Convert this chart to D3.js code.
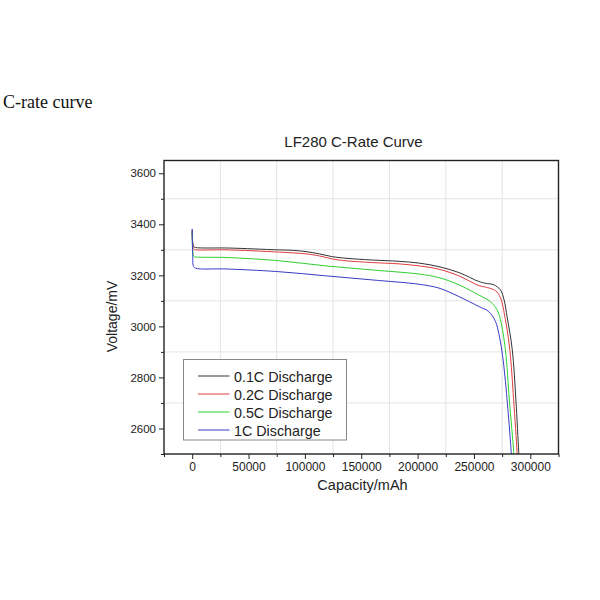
<!DOCTYPE html>
<html>
<head>
<meta charset="utf-8">
<script src="https://cdn.jsdelivr.net/npm/d3@7"></script>
<style>
  html, body { margin: 0; padding: 0; background: #fff; }
  svg { display: block; }
</style>
</head>
<body>
<svg id="chart" width="600" height="600"></svg>
<script>
// ---- data (capacity in mAh, voltage in mV) ----
const seriesNames = ["0.1C Discharge", "0.2C Discharge", "0.5C Discharge", "1C Discharge"];
const seriesColors = ["#333333", "#e03c3c", "#2ed12e", "#3a3ac8"];

const cap01C = [0, 500, 1500, 3000, 33000, 75000, 89000, 101000, 113000, 124600, 136500, 160000, 183600, 201300, 219000, 236600, 254300, 260200, 267600, 273500, 276700, 279500, 284000, 287200, 289700, 290100];
const volt01C = [3380, 3330, 3312, 3309, 3307, 3300, 3298, 3293, 3284, 3273, 3267, 3260, 3255, 3248, 3234, 3211, 3176, 3169, 3163, 3143, 3104, 3035, 2908, 2712, 2510, 2480];

const cap02C = [0, 500, 1500, 3000, 30000, 77500, 101000, 113000, 124600, 136500, 160000, 183600, 201300, 219000, 236600, 254300, 262000, 269100, 273500, 277900, 281800, 285200, 288200, 288500];
const volt02C = [3372, 3318, 3302, 3300, 3300, 3291, 3284, 3276, 3264, 3257, 3250, 3245, 3237, 3224, 3198, 3160, 3152, 3140, 3112, 3026, 2908, 2712, 2510, 2480];

const cap05C = [0, 500, 1500, 3000, 30000, 75000, 118800, 160000, 201300, 219000, 236600, 254300, 264600, 270500, 273500, 277900, 281400, 285200, 285500];
const volt05C = [3368, 3295, 3274, 3272, 3270, 3258, 3237, 3221, 3205, 3191, 3163, 3123, 3097, 3065, 3026, 2908, 2712, 2510, 2480];

const cap1C = [0, 400, 1200, 3000, 30000, 75000, 118800, 160000, 201300, 219000, 236600, 254300, 263100, 269100, 272000, 274900, 277900, 283000, 283300];
const volt1C = [3382, 3290, 3235, 3228, 3225, 3215, 3198, 3182, 3165, 3150, 3117, 3078, 3058, 3019, 2973, 2900, 2785, 2510, 2480];

const xTickValues = [0, 50000, 100000, 150000, 200000, 250000, 300000];
const xMinorValues = [-25000, 25000, 75000, 125000, 175000, 225000, 275000, 325000];
const yTickValues = [2600, 2800, 3000, 3200, 3400, 3600];
const yMinorValues = [2500, 2700, 2900, 3100, 3300, 3500];

const pageTitle = "C-rate curve";
const chartTitle = "LF280 C-Rate Curve";
const xLabel = "Capacity/mAh";
const yLabel = "Voltage/mV";

// ---- layout ----
const svg = d3.select("#chart");
const pLeft = 164, pRight = 558.5, pTop = 160.5, pBottom = 454;
const x = d3.scaleLinear().domain([-25000, 325000]).range([pLeft, pRight]);
const y = d3.scaleLinear().domain([2500, 3650]).range([pBottom, pTop]);

const sans = "'Liberation Sans', Arial, sans-serif";

// page heading
svg.append("text").attr("x", 3).attr("y", 108)
  .attr("font-family", "'Liberation Serif', 'Times New Roman', serif")
  .attr("font-size", 18).attr("fill", "#111").text(pageTitle);

// chart title
svg.append("text").attr("x", 353.5).attr("y", 146.5)
  .attr("text-anchor", "middle").attr("font-family", sans)
  .attr("font-size", 15).attr("fill", "#222").text(chartTitle);

// grid (at minor positions)
const grid = svg.append("g").attr("stroke", "#e4e4e4").attr("stroke-width", 1);
grid.selectAll("line.gx").data(xMinorValues.filter(v => v > -25000 && v < 325000)).enter()
  .append("line").attr("x1", d => x(d)).attr("x2", d => x(d)).attr("y1", pTop).attr("y2", pBottom);
grid.selectAll("line.gy").data(yMinorValues.filter(v => v > 2500)).enter()
  .append("line").attr("y1", d => y(d)).attr("y2", d => y(d)).attr("x1", pLeft).attr("x2", pRight);

// curves
svg.append("clipPath").attr("id", "plotclip").append("rect")
  .attr("x", pLeft).attr("y", pTop).attr("width", pRight - pLeft).attr("height", pBottom - pTop);

const caps = [cap01C, cap02C, cap05C, cap1C];
const volts = [volt01C, volt02C, volt05C, volt1C];
const line = d3.line().x(d => x(d[0])).y(d => y(d[1])).curve(d3.curveCatmullRom.alpha(0.5));
const curves = svg.append("g").attr("clip-path", "url(#plotclip)");
caps.forEach((c, i) => {
  const pts = c.map((v, j) => [v, volts[i][j]]);
  curves.append("path").datum(pts).attr("d", line)
    .attr("fill", "none").attr("stroke", seriesColors[i]).attr("stroke-width", 1);
});

// axes
const xAxis = d3.axisBottom(x).tickValues(xTickValues).tickSize(5).tickPadding(3).tickFormat(d3.format("d"));
const xMinor = d3.axisBottom(x).tickValues(xMinorValues).tickSize(3).tickFormat("");
const yAxis = d3.axisLeft(y).tickValues(yTickValues).tickSize(5).tickPadding(3).tickFormat(d3.format("d"));
const yMinor = d3.axisLeft(y).tickValues(yMinorValues).tickSize(3).tickFormat("");

function styleAxis(g, fs) {
  g.select(".domain").remove();
  g.selectAll(".tick line").attr("stroke", "#222").attr("stroke-width", 1);
  g.selectAll(".tick text").attr("font-family", sans).attr("font-size", fs).attr("fill", "#222");
}
svg.append("g").attr("transform", `translate(0,${pBottom})`).call(xMinor).call(g => styleAxis(g, 12));
svg.append("g").attr("transform", `translate(0,${pBottom})`).call(xAxis).call(g => styleAxis(g, 12));
svg.append("g").attr("transform", `translate(${pLeft},0)`).call(yMinor).call(g => styleAxis(g, 11.5));
svg.append("g").attr("transform", `translate(${pLeft},0)`).call(yAxis).call(g => styleAxis(g, 11.5));

// frame
svg.append("rect").attr("x", pLeft).attr("y", pTop).attr("width", pRight - pLeft).attr("height", pBottom - pTop)
  .attr("fill", "none").attr("stroke", "#222").attr("stroke-width", 1.4);

// axis labels
svg.append("text").attr("x", 362.5).attr("y", 490).attr("text-anchor", "middle")
  .attr("font-family", sans).attr("font-size", 14.5).attr("fill", "#222").text(xLabel);
svg.append("text").attr("transform", "translate(117,316.5) rotate(-90)").attr("text-anchor", "middle")
  .attr("font-family", sans).attr("font-size", 14).attr("fill", "#222").text(yLabel);

// legend
const lg = svg.append("g");
lg.append("rect").attr("x", 183.5).attr("y", 359.5).attr("width", 163).attr("height", 80.5)
  .attr("fill", "#fff").attr("stroke", "#888").attr("stroke-width", 1);
seriesNames.forEach((name, i) => {
  const by = 382 + i * 18;
  lg.append("line").attr("x1", 198).attr("x2", 229.5).attr("y1", by - 6).attr("y2", by - 6)
    .attr("stroke", seriesColors[i]).attr("stroke-width", 1);
  lg.append("text").attr("x", 234).attr("y", by).attr("font-family", sans)
    .attr("font-size", 14.3).attr("fill", "#222").text(name);
});
</script>
</body>
</html>
